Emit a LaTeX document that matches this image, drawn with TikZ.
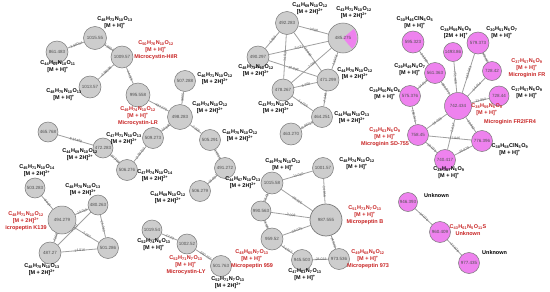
\documentclass[tikz,border=0pt]{standalone}
\usepackage{fontspec}
\setmainfont{Liberation Sans}
\usetikzlibrary{backgrounds}
\definecolor{ngray}{RGB}{205,205,205}
\definecolor{nborder}{RGB}{120,120,120}
\definecolor{npink}{RGB}{238,130,238}
\definecolor{ecol}{RGB}{160,160,160}
\definecolor{mred}{RGB}{200,35,35}
\definecolor{numc}{RGB}{80,80,80}
\definecolor{elc}{RGB}{95,95,95}
\newcommand\sbs[1]{\textsubscript{#1}}
\newcommand\sps[1]{\textsuperscript{#1}}
\newcommand\mhp{[M + H]\sps{+}}
\newcommand\mhhp{[M + 2H]\sps{2+}}
\tikzset{
 gn/.style={circle, draw=nborder, line width=0.5pt, fill=ngray, inner sep=0pt, minimum size=22pt, font=\fontsize{4.5}{5}\selectfont, text=numc},
 pn/.style={gn, fill=npink},
 ed/.style={draw=ecol, line width=0.8pt},
 el/.style={sloped, font=\fontsize{3.5}{4}\selectfont, text=elc, inner sep=0.3pt},
 lab/.style={font=\bfseries\fontsize{5.5}{7}\selectfont, align=center, inner sep=0pt},
 rlab/.style={lab, text=mred},
}
\begin{document}
\begin{tikzpicture}[x=1pt,y=-1pt]
\useasboundingbox (0,0) rectangle (550,292);
% ---------- cluster 1 ----------
\node[gn,minimum size=23pt] (a1) at (95,38) {1015.55};
\node[gn,minimum size=22pt] (a2) at (57,52) {861.483};
\node[gn,minimum size=22pt] (a3) at (122,57) {1009.57};
\node[gn,minimum size=22pt] (a4) at (90,87) {1013.57};
\node[gn,minimum size=24pt] (a5) at (138,95) {995.558};
% ---------- cluster 2 ----------
\node[gn,minimum size=25pt] (b1) at (180,117) {498.283};
\node[gn,minimum size=21pt] (b2) at (185,81) {507.288};
\node[gn,minimum size=21pt] (b3) at (153,138) {509.273};
\node[gn,minimum size=21pt] (b4) at (210,140) {505.291};
\node[gn,minimum size=21pt] (b5) at (225,168) {491.272};
\node[gn,minimum size=21pt] (b6) at (200,191) {506.279};
\node[gn,minimum size=21pt] (b7) at (127,170) {506.276};
\node[gn,minimum size=20pt] (b8) at (103,148) {472.283};
\node[gn,minimum size=20pt] (b9) at (48,132) {465.768};
% ---------- cluster 3 ----------
\node[gn,minimum size=23pt] (c1) at (287,23) {492.283};
\node[gn,minimum size=30pt,path picture={\fill[npink] (path picture bounding box.center) -- ++(-40:14) arc[start angle=-40,end angle=50,radius=14] -- cycle;}] (c2) at (343,38) {485.275};
\node[gn,minimum size=22pt] (c3) at (258,57) {490.297};
\node[gn,minimum size=22pt] (c4) at (328,80) {471.299};
\node[gn,minimum size=22pt] (c5) at (283,90) {478.267};
\node[gn,minimum size=21pt] (c6) at (322,117) {464.251};
\node[gn,minimum size=22pt] (c7) at (291,134) {463.270};
% ---------- cluster 4 ----------
\node[gn,minimum size=22pt] (d1) at (272,183) {1015.58};
\node[gn,minimum size=21pt] (d2) at (323,168) {1001.57};
\node[gn,minimum size=20pt] (d3) at (261,211) {990.563};
\node[gn,minimum size=32pt,line width=0.7pt] (d4) at (326,220) {987.555};
\node[gn,minimum size=22pt] (d5) at (272,239) {959.52};
\node[gn,minimum size=21pt] (d6) at (302,260) {945.503};
\node[gn,minimum size=21pt] (d7) at (339,259) {973.536};
% ---------- cluster LY ----------
\node[gn,minimum size=20pt] (e1) at (152,230) {1019.54};
\node[gn,minimum size=20pt] (e2) at (187,244) {1002.52};
\node[gn,minimum size=21pt] (e3) at (221,266) {501.763};
% ---------- cluster K139 ----------
\node[gn,minimum size=20pt] (f1) at (35,188) {503.283};
\node[gn,minimum size=28pt] (f2) at (62,220) {494.279};
\node[gn,minimum size=20pt] (f3) at (98,205) {480.263};
\node[gn,minimum size=22pt] (f4) at (50,253) {487.27};
\node[gn,minimum size=21pt] (f5) at (108,248) {501.286};
% ---------- pink cluster ----------
\node[pn,minimum size=22pt] (g1) at (413,42) {595.323};
\node[pn,minimum size=19pt] (g2) at (453,52) {1493.86};
\node[pn,minimum size=22pt] (g3) at (478,43) {579.373};
\node[pn,minimum size=21pt] (g4) at (435,73) {561.363};
\node[pn,minimum size=19pt] (g5) at (492,71) {728.42};
\node[pn,minimum size=20pt] (g6) at (499,96) {728.44};
\node[pn,minimum size=21pt] (g7) at (410,96) {575.376};
\node[pn,minimum size=27pt] (g8) at (458,106) {742.434};
\node[pn,minimum size=21pt] (g9) at (418,135) {758.45};
\node[pn,minimum size=21pt] (g10) at (482,141) {776.396};
\node[pn,minimum size=21pt] (g11) at (445,160) {740.417};
% ---------- bottom pink ----------
\node[pn,minimum size=19pt] (h1) at (408,202) {946.393};
\node[pn,minimum size=21pt] (h2) at (440,232) {960.409};
\node[pn,minimum size=21pt] (h3) at (469,263) {977.435};

% ---------- edges ----------
\begin{pgfonlayer}{background}
\fill[white] (0,0) rectangle (550,292);
\draw[ed] (a2) -- node[el]{-3.98054} (a1);
\draw[ed] (a1) -- node[el]{-5.9824} (a3);
\draw[ed] (a3) -- node[el]{-3.98098} (a4);
\draw[ed] (a3) -- node[el]{-14.016} (a5);
\draw[ed] (a5) -- node[el,pos=0.6]{-497.275} (b1);
\draw[ed] (b2) -- node[el]{-9.005} (b1);
\draw[ed] (b1) -- node[el]{-10.990} (b3);
\draw[ed] (b1) -- node[el]{-7.008} (b4);
\draw[ed] (b4) -- node[el]{-14.019} (b5);
\draw[ed] (b5) -- node[el]{-15.007} (b6);
\draw[ed] (b3) -- node[el]{-2.99703} (b7);
\draw[ed] (b7) -- node[el]{-33.993} (b8);
\draw[ed] (b8) -- node[el]{-6.51488} (b9);
\draw[ed] (c1) -- node[el]{-7.008} (c2);
\draw[ed] (c1) -- node[el]{-1.986} (c3);
\draw[ed] (c3) -- node[el]{-5.022} (c2);
\draw[ed] (c1) -- node[el]{-20.984} (c4);
\draw[ed] (c1) -- node[el]{-14.016} (c5);
\draw[ed] (c3) -- node[el]{-18.998} (c4);
\draw[ed] (c2) -- node[el]{-7.008} (c5);
\draw[ed] (c2) -- node[el]{-13.976} (c4);
\draw[ed] (c5) -- node[el]{-6.968} (c4);
\draw[ed] (c4) -- node[el]{-7.048} (c6);
\draw[ed] (c5) -- node[el]{-14.016} (c6);
\draw[ed] (c6) -- node[el]{-0.98113} (c7);
\draw[ed] (d3) -- node[el]{-25.017} (d1);
\draw[ed] (d1) -- node[el]{-14.010} (d2);
\draw[ed] (d2) -- node[el]{-14.015} (d4);
\draw[ed] (d1) -- node[el]{-28.025} (d4);
\draw[ed] (d3) -- node[el]{-3.008} (d4);
\draw[ed] (d3) -- node[el]{-31.043} (d5);
\draw[ed] (d5) -- node[el]{-28.035} (d4);
\draw[ed] (d5) -- node[el]{-14.017} (d6);
\draw[ed] (d6) -- node[el]{-28.033} (d7);
\draw[ed] (d7) -- node[el]{-14.019} (d4);
\draw[ed] (e1) -- node[el]{-17.02} (e2);
\draw[ed] (e2) -- node[el,pos=0.6]{-500.757} (e3);
\draw[ed] (f1) -- node[el]{-9.004} (f2);
\draw[ed] (f2) -- node[el]{-14.016} (f3);
\draw[ed] (f2) -- node[el]{-7.009} (f4);
\draw[ed] (f2) -- node[el]{-7.007} (f5);
\draw[ed] (f3) -- node[el]{-7.007} (f4);
\draw[ed] (f3) -- node[el]{-21.023} (f5);
\draw[ed] (f4) -- node[el]{-14.016} (f5);
\draw[ed] (g1) -- node[el]{-33.960} (g4);
\draw[ed] (g2) -- node[el]{-751.426} (g8);
\draw[ed] (g3) -- node[el]{-163.061} (g8);
\draw[ed] (g3) -- node[el]{-149.047} (g5);
\draw[ed] (g4) -- node[el]{-181.071} (g8);
\draw[ed] (g4) -- node[el]{-14.013} (g7);
\draw[ed] (g5) -- node[el]{-14.014} (g8);
\draw[ed] (g6) -- node[el]{-13.994} (g8);
\draw[ed] (g7) -- node[el]{-183.074} (g9);
\draw[ed] (g8) -- node[el]{-16.016} (g9);
\draw[ed] (g8) -- node[el]{-33.962} (g10);
\draw[ed] (g8) -- node[el,pos=0.3]{-2.017} (g11);
\draw[ed] (g9) -- node[el,pos=0.6]{-17.946} (g10);
\draw[ed] (g9) -- node[el]{-18.033} (g11);
\draw[ed] (g11) -- node[el]{-35.979} (g10);
\draw[ed] (h1) -- node[el]{-14.016} (h2);
\draw[ed] (h2) -- node[el]{-17.026} (h3);
\end{pgfonlayer}

% ---------- labels ----------
\node[lab] (t1) at (115,23) {C\sbs{48}H\sbs{73}N\sbs{10}O\sbs{13}\\\mhp};
\node[lab] (t2) at (58,67) {C\sbs{44}H\sbs{69}N\sbs{10}O\sbs{11}\\\mhp};
\node[lab] (t3) at (64,95) {C\sbs{48}H\sbs{75}N\sbs{10}O\sbs{13}\\\mhp};
\node[rlab] (r1) at (156,50) {C\sbs{50}H\sbs{76}N\sbs{10}O\sbs{12}\\\mhp\\Microcystin-HilR};
\node[lab] (t4) at (215,79) {C\sbs{46}H\sbs{71}N\sbs{10}O\sbs{12}\\\mhhp};
\node[lab] (t5) at (256,71) {C\sbs{48}H\sbs{73}N\sbs{10}O\sbs{12}\\\mhhp};
\node[lab] (t6) at (210,108) {C\sbs{49}H\sbs{74}N\sbs{10}O\sbs{12}\\\mhhp};
\node[rlab] (r2) at (138,116) {C\sbs{49}H\sbs{74}N\sbs{10}O\sbs{12}\\\mhp\\Microcystin-LR};
\node[lab] (t7) at (124,139) {C\sbs{47}H\sbs{71}N\sbs{10}O\sbs{13}\\\mhhp};
\node[lab] (t8) at (240,136) {C\sbs{48}H\sbs{75}N\sbs{10}O\sbs{12}\\\mhhp};
\node[lab] (t9) at (243,183) {C\sbs{44}H\sbs{67}N\sbs{10}O\sbs{13}\\\mhhp};
\node[lab] (t10) at (155,176) {C\sbs{47}H\sbs{74}N\sbs{10}O\sbs{14}\\\mhhp};
\node[lab] (t11) at (168,198) {C\sbs{44}H\sbs{69}N\sbs{10}O\sbs{12}\\\mhhp};
\node[lab] (t12) at (80,155) {C\sbs{44}H\sbs{69}N\sbs{10}O\sbs{12}\\\mhhp};
\node[lab] (t13) at (37,171) {C\sbs{45}H\sbs{71}N\sbs{10}O\sbs{14}\\\mhhp};
\node[lab] (t14) at (83,190) {C\sbs{48}H\sbs{70}N\sbs{10}O\sbs{13}\\\mhhp};
\node[rlab] (r3) at (26,221) {C\sbs{48}H\sbs{71}N\sbs{10}O\sbs{12}\\\mhhp\\icropeptin K139};
\node[lab] (t15) at (42,270) {C\sbs{48}H\sbs{70}N\sbs{10}O\sbs{13}\\\mhhp};
\node[lab] (t16) at (154,245) {C\sbs{52}H\sbs{74}N\sbs{8}O\sbs{13}\\\mhp};
\node[rlab] (r4) at (186,265) {C\sbs{52}H\sbs{71}N\sbs{7}O\sbs{13}\\\mhp\\Microcystin-LY};
\node[lab] (t17) at (228,283) {C\sbs{52}H\sbs{71}N\sbs{7}O\sbs{13}\\\mhhp};
\node[lab] (t18) at (310,9) {C\sbs{44}H\sbs{69}N\sbs{10}O\sbs{12}\\\mhhp};
\node[lab] (t19) at (354,13) {C\sbs{43}H\sbs{71}N\sbs{10}O\sbs{12}\\\mhhp};
\node[lab] (t20) at (355,74) {C\sbs{44}H\sbs{70}N\sbs{10}O\sbs{12}\\\mhhp};
\node[lab] (t21) at (276,108) {C\sbs{43}H\sbs{71}N\sbs{10}O\sbs{12}\\\mhhp};
\node[lab] (t22) at (352,118) {C\sbs{44}H\sbs{68}N\sbs{10}O\sbs{13}\\\mhhp};
\node[lab] (t23) at (283,165) {C\sbs{49}H\sbs{76}N\sbs{10}O\sbs{12}\\\mhp};
\node[lab] (t24) at (357,164) {C\sbs{48}H\sbs{74}N\sbs{10}O\sbs{12}\\\mhp};
\node[rlab] (r5) at (365,215) {C\sbs{51}H\sbs{73}N\sbs{7}O\sbs{13}\\\mhp\\Micropeptin B};
\node[rlab] (r6) at (368,259) {C\sbs{49}H\sbs{68}N\sbs{8}O\sbs{12}\\\mhp\\Micropeptin 973};
\node[rlab] (r7) at (252,259) {C\sbs{48}H\sbs{65}N\sbs{7}O\sbs{13}\\\mhp\\Micropeptin 959};
\node[lab] (t25) at (305,275) {C\sbs{47}H\sbs{63}N\sbs{7}O\sbs{13}\\\mhp};
\node[lab] (t26) at (415,23) {C\sbs{30}H\sbs{46}ClN\sbs{5}O\sbs{5}\\\mhp};
\node[lab] (t27) at (456,33) {C\sbs{38}H\sbs{59}N\sbs{5}O\sbs{9}\\{}[2M + H]\sps{+}};
\node[lab] (t28) at (502,33) {C\sbs{30}H\sbs{51}N\sbs{5}O\sbs{7}\\\mhp};
\node[lab] (t29) at (410,70) {C\sbs{29}H\sbs{49}N\sbs{4}O\sbs{7}\\\mhp};
\node[rlab] (r8) at (527,68) {C\sbs{37}H\sbs{57}N\sbs{5}O\sbs{9}\\\mhp\\Microginin FR};
\node[lab] (t30) at (527,93) {C\sbs{37}H\sbs{57}N\sbs{5}O\sbs{9}\\\mhp};
\node[lab] (t31) at (385,94) {C\sbs{29}H\sbs{50}N\sbs{5}O\sbs{6}\\\mhp};
\node[rlab] (r9) at (487,110) {C\sbs{38}H\sbs{59}N\sbs{5}O\sbs{9}\\\mhp};
\node[rlab] (r9b) at (510,122) {Microginin FR2/FR4};
\node[rlab] (r10) at (385,137) {C\sbs{39}H\sbs{63}N\sbs{5}O\sbs{9}\\\mhp\\Microginin SD-755};
\node[lab] (t32) at (510,150) {C\sbs{38}H\sbs{58}ClN\sbs{5}O\sbs{9}\\\mhp};
\node[lab] (t33) at (449,173) {C\sbs{38}H\sbs{57}N\sbs{5}O\sbs{9}\\\mhp};
\node[lab,anchor=west] (t34) at (424,196) {Unknown};
\node[rlab] (r11) at (468,230) {C\sbs{43}H\sbs{61}N\sbs{5}O\sbs{11}S\\Unknown};
\node[lab,anchor=west] (t35) at (482,253) {Unknown};
\end{tikzpicture}
\end{document}
